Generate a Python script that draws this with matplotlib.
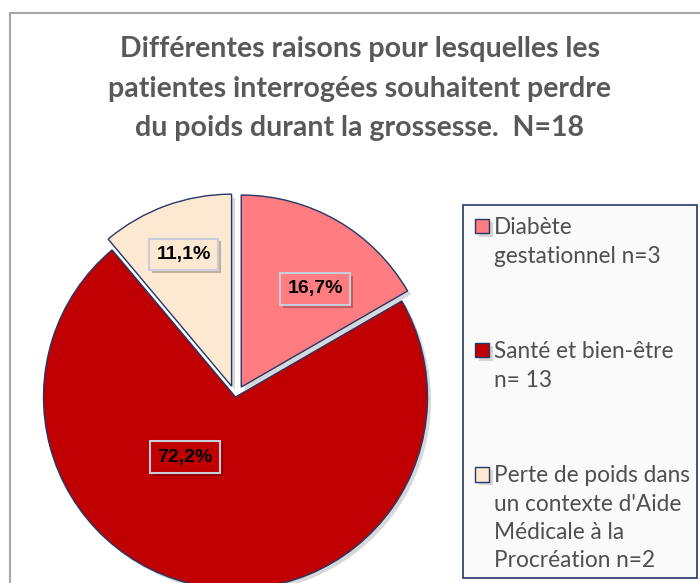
import numpy as np
import matplotlib
matplotlib.use("Agg")
from matplotlib import pyplot as plt
from matplotlib import patheffects as pe
from matplotlib.patches import Rectangle
from matplotlib.legend_handler import HandlerPatch

# données
titre     = "Différentes raisons pour lesquelles les\npatientes interrogées souhaitent perdre\ndu poids durant la grossesse.  N=18"
categories = ["Diabète\ngestationnel n=3",
              "Santé et bien-être\nn= 13",
              "Perte de poids dans\nun contexte d'Aide\nMédicale à la\nProcréation n=2"]
effectifs = [3, 13, 2]
couleurs  = ["#FF7C80", "#C00000", "#FDE9D2"]
eclate    = [0.06, 0.0, 0.06]

# position des étiquettes (distance au centre, rotation en degrés)
etiq_dist = [0.64, 0.41, 0.73]
etiq_rot  = [-7, -30, 0]

GRIS   = "#595959"
MARINE = "#24376B"
W, H   = 700, 583

fig = plt.figure(figsize=(7, 5.83), dpi=100)
fig.patch.set_facecolor("white")

# cadre gris du graphique (coupé à droite et en bas)
fig.patches.append(Rectangle((9.5/W, -0.1), 1.2, 1.1 - 13.5/H, transform=fig.transFigure,
                             facecolor="none", edgecolor="#A6A6A6", linewidth=1.5, clip_on=False))

# cadre de la légende
fig.patches.append(Rectangle((463/W, 1 - 578/H), (697 - 463)/W, (578 - 205)/H, transform=fig.transFigure,
                             facecolor="#FAFAFA", edgecolor=MARINE, linewidth=1.2))

ax = fig.add_axes([0, 0, 1, 1])

ombre = [pe.SimplePatchShadow(offset=(2.5, -2.5), shadow_rgbFace="#B8B8B8", alpha=0.55), pe.Normal()]

wedges, textes, pcts = ax.pie(effectifs, colors=couleurs, explode=eclate, startangle=90,
                              counterclock=False, radius=1.0,
                              autopct=lambda p: ("%.1f%%" % p).replace(".", ","),
                              wedgeprops=dict(edgecolor=MARINE, linewidth=1.0, path_effects=ombre),
                              textprops=dict(fontsize=14, fontweight="bold", color="black",
                                             family="Liberation Sans"))

# cadrage : rayon 192 px, centre à (235.5, 397) px depuis le coin haut gauche
R  = 192.0
cx, cy = 235.5, 397.0
ax.set_aspect("equal")
ax.set_xlim(-cx/R, (W - cx)/R)
ax.set_ylim(-(H - cy)/R, cy/R)
ax.axis("off")

for w, t, d, r, c in zip(wedges, pcts, etiq_dist, etiq_rot, couleurs):
	a = np.deg2rad((w.theta1 + w.theta2) / 2 + r)
	x0, y0 = w.center
	t.set_position((x0 + d*np.cos(a), y0 + d*np.sin(a)))
	t.set_bbox(dict(boxstyle="square,pad=0.38", facecolor=c, edgecolor="#C9CCDA", linewidth=1.5,
	                path_effects=[pe.SimplePatchShadow(offset=(2, -2), alpha=0.35), pe.Normal()]))

fig.text(360/W, 1 - 36/H, titre, ha="center", va="top", fontsize=20.5, fontweight="bold",
         color=GRIS, family="Lato", linespacing=1.65)

ligne_pt = 28 * 0.72   # interligne de la légende, en points

def carre_haut(nlignes):
	def fabrique(legend, orig_handle, xdescent, ydescent, width, height, fontsize):
		lift = (nlignes - 1) / 2 * ligne_pt + 2
		return Rectangle((-xdescent, -ydescent + lift), width, height)
	return fabrique

handler_map = {w: HandlerPatch(patch_func=carre_haut(l.count("\n") + 1))
               for w, l in zip(wedges, categories)}

leg = fig.legend(wedges, categories, loc="upper left", bbox_to_anchor=(463/W, 1 - 205/H),
                 bbox_transform=fig.transFigure, borderaxespad=0, frameon=False,
                 prop=dict(family="Lato", size=16.3), labelcolor="#4F4F4F",
                 handlelength=0.62, handleheight=0.62, handletextpad=0.2,
                 labelspacing=3.3, borderpad=0.55, handler_map=handler_map)
for t in leg.get_texts():
	t.set_linespacing(1.43)

fig.savefig("out.png", dpi=100)
